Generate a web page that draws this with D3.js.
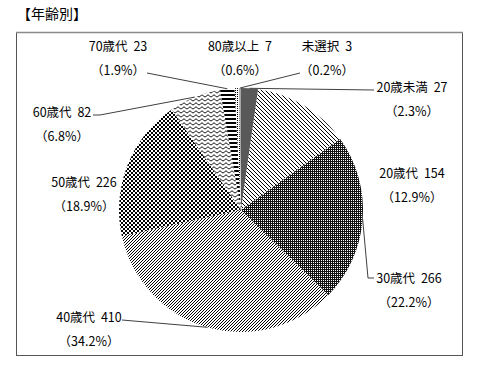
<!DOCTYPE html>
<html><head><meta charset="utf-8">
<script src="https://cdn.jsdelivr.net/npm/d3@7/dist/d3.min.js"></script>
<style>
html,body{margin:0;padding:0;background:#fff;}
svg{display:block;}
text{font-family:"Noto Sans CJK JP","Noto Sans",sans-serif;fill:#000;}
</style></head>
<body><svg id="c" width="477" height="369"></svg>
<script>
const title = "【年齢別】";
const categories = ["20歳未満","20歳代","30歳代","40歳代","50歳代","60歳代","70歳代","80歳以上","未選択"];
const values = [27,154,266,410,226,82,23,7,3];
const percents = ["2.3","12.9","22.2","34.2","18.9","6.8","1.9","0.6","0.2"];

// layout (label centres, manual placement as in the original)
const labelLayout = [
  {x:412,y:87},{x:412,y:173},{x:409,y:278},{x:89,y:317},{x:84,y:182},
  {x:62,y:112},{x:118,y:46},{x:240,y:46},{x:327,y:46}
];
const leaderEnds = [
  [[374,90]], null, [[368,278],[374,278]], [[122,320]], null,
  [[100,115],[93,115]], [[147,73]], null, [[300,73]]
];

const svg = d3.select("#c");
const defs = svg.append("defs");
function pat(id,w,h,bg,fn){
  const p = defs.append("pattern").attr("id",id).attr("patternUnits","userSpaceOnUse")
    .attr("width",w).attr("height",h);
  p.append("rect").attr("width",w).attr("height",h).attr("fill",bg);
  fn(p);
}
function px(p,x,y,w,h,c){p.append("rect").attr("x",x).attr("y",y).attr("width",w||1).attr("height",h||1).attr("fill",c||"#000");}
pat("p0",4,4,"#595959",p=>{});
pat("p1",4,4,"#fff",p=>{for(let i=0;i<4;i++)px(p,i,i);});
pat("p2",2,2,"#111",p=>{px(p,0,0,1,1,"#fff");});
pat("p3",3,3,"#fff",p=>{px(p,2,0);px(p,1,1);px(p,0,2);});
pat("p4",4,4,"#fff",p=>{px(p,0,0,2,2);px(p,2,2,2,2);});
pat("p5",6,4,"#fff",p=>{p.append("path").attr("d","M0,3 C1,3 1.6,1 3,1 C4.4,1 5,3 6,3").attr("fill","none").attr("stroke","#000").attr("stroke-width",1);});
pat("p6",4,4,"#fff",p=>{px(p,0,0,4,2);});
pat("p7",2,2,"#fff",p=>{px(p,0,0);});
pat("p8",4,4,"#a6a6a6",p=>{});

// frame
svg.append("rect").attr("x",16.5).attr("y",32.5).attr("width",446).attr("height",323)
  .attr("fill","none").attr("stroke","#555").attr("stroke-width",1);
svg.append("line").attr("x1",16).attr("x2",463).attr("y1",32.5).attr("y2",32.5)
  .attr("stroke","#8a8a8a").attr("stroke-width",1.5);

svg.append("text").attr("x",17).attr("y",19).attr("font-size",14).text(title);

const cx=241, cy=210, r=122;
const pie = d3.pie().sort(null).value(d=>d)(values);
const arc = d3.arc().innerRadius(0).outerRadius(r);
const edge = d3.arc().innerRadius(r).outerRadius(r);
const g = svg.append("g").attr("transform",`translate(${cx},${cy})`);
g.selectAll("path.s").data(pie).join("path").attr("class","s")
  .attr("d",arc).attr("fill",(d,i)=>`url(#p${i})`);

// leader lines
pie.forEach((d,i)=>{
  if(!leaderEnds[i]) return;
  const c = edge.centroid(d);
  const pts = [[cx+c[0],cy+c[1]]].concat(leaderEnds[i]);
  svg.append("path").attr("d",d3.line()(pts)).attr("fill","none")
    .attr("stroke","#404040").attr("stroke-width",1);
});

// labels
categories.forEach((c,i)=>{
  const L = labelLayout[i];
  const t = svg.append("text").attr("x",L.x).attr("y",L.y+4.5).attr("text-anchor","middle")
    .attr("font-size",12.5);
  t.append("tspan").text(c);
  t.append("tspan").attr("dx",3).text(" "+values[i]);
  svg.append("text").attr("x",L.x).attr("y",L.y+24+4.5).attr("text-anchor","middle")
    .attr("font-size",12.5).text("（"+percents[i]+"%）");
});
</script></body></html>
